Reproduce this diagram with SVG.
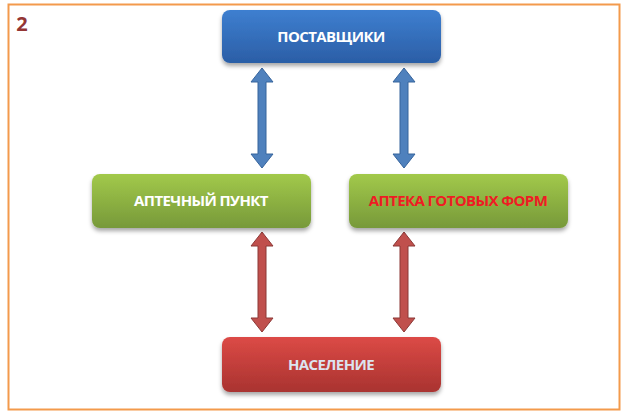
<svg xmlns="http://www.w3.org/2000/svg" width="624" height="412" viewBox="0 0 624 412">
<defs>
<linearGradient id="gb" x1="0" y1="0" x2="0" y2="1"><stop offset="0" stop-color="#3e7fd0"/><stop offset="1" stop-color="#2b5ea6"/></linearGradient>
<linearGradient id="gg" x1="0" y1="0" x2="0" y2="1"><stop offset="0" stop-color="#a2c94a"/><stop offset="1" stop-color="#77993a"/></linearGradient>
<linearGradient id="gr" x1="0" y1="0" x2="0" y2="1"><stop offset="0" stop-color="#dc4a46"/><stop offset="1" stop-color="#a93330"/></linearGradient>
<filter id="sh" x="-10%" y="-20%" width="120%" height="150%"><feDropShadow dx="0" dy="3" stdDeviation="2" flood-color="#000" flood-opacity="0.35"/></filter>
<path id="arr" d="M0,0 L11,14 L4,14 L4,86 L11,86 L0,100 L-11,86 L-4,86 L-4,14 L-11,14 Z"/>
</defs>
<style>
text{font-family:"Open Sans","DejaVu Sans",sans-serif;font-weight:bold;font-size:15px;text-anchor:middle;letter-spacing:-0.6px}
.w{fill:#fff}
</style>
<rect x="8.5" y="4.5" width="611" height="405" fill="#fff" stroke="#f39a4c" stroke-width="2"/>
<text x="22" y="31" style="font-size:20px;fill:#943634;letter-spacing:0">2</text>
<g id="connectors">
<use href="#arr" x="262" y="68" fill="#4f81bd" stroke="#36649c" stroke-width="1"/>
<use href="#arr" x="404" y="68" fill="#4f81bd" stroke="#36649c" stroke-width="1"/>
<use href="#arr" x="262" y="232" fill="#c0504d" stroke="#8c3836" stroke-width="1"/>
<use href="#arr" x="404" y="232" fill="#c0504d" stroke="#8c3836" stroke-width="1"/>
</g>
<g id="n1"><rect x="222" y="10" width="219" height="53" rx="8" fill="url(#gb)" filter="url(#sh)"/><text x="331" y="42" class="w">ПОСТАВЩИКИ</text></g>
<g id="n2"><rect x="92" y="174" width="219" height="54" rx="8" fill="url(#gg)" filter="url(#sh)"/><text x="201" y="206" class="w">АПТЕЧНЫЙ ПУНКТ</text></g>
<g id="n3"><rect x="349" y="174" width="219" height="54" rx="8" fill="url(#gg)" filter="url(#sh)"/><text x="458" y="206" fill="#ee1c24">АПТЕКА ГОТОВЫХ  ФОРМ</text></g>
<g id="n4"><rect x="222" y="337" width="219" height="55" rx="8" fill="url(#gr)" filter="url(#sh)"/><text x="331" y="370" fill="#dce4f0">НАСЕЛЕНИЕ</text></g>
</svg>
